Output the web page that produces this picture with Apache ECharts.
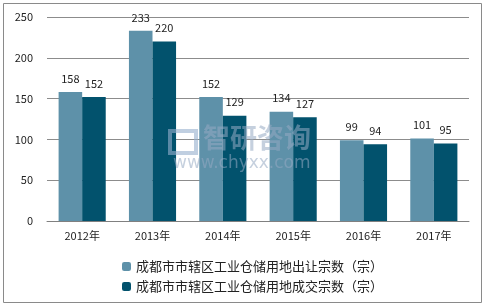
<!DOCTYPE html>
<html><head><meta charset="utf-8">
<script src="https://cdn.jsdelivr.net/npm/echarts@6/dist/echarts.min.js"></script>
<style>html,body{margin:0;padding:0;background:#fff}#c{width:485px;height:306px}</style>
</head><body><div id="c"></div>
<script>
const categories = ['2012年','2013年','2014年','2015年','2016年','2017年'];
const seriesNames = ['成都市市辖区工业仓储用地出让宗数（宗）','成都市市辖区工业仓储用地成交宗数（宗）'];
const transferred = [158,233,152,134,99,101];
const traded = [152,220,129,127,94,95];
const yTicks = {min:0,max:250,interval:50};

const font = '"Microsoft YaHei","Noto Sans CJK SC",sans-serif';
const chart = echarts.init(document.getElementById('c'));
chart.setOption({
  animation:false,
  textStyle:{fontFamily:font},
  graphic:[
    {type:'rect',shape:{x:3.5,y:3.5,width:478,height:299},style:{fill:'none',stroke:'#8a8a8a',lineWidth:1}},
    {type:'rect',z:100,shape:{x:170,y:131,width:26,height:22},style:{fill:'none',stroke:'rgba(150,175,205,0.6)',lineWidth:4}},
    {type:'text',left:203,top:124,z:100,style:{text:'智研咨询',fill:'rgba(150,170,195,0.55)',font:'bold 27px "Noto Sans CJK SC"'}},
    {type:'text',left:173,top:155,z:100,style:{text:'www.chyxx.com',fill:'rgba(150,170,195,0.55)',font:'17px "DejaVu Sans"'}}
  ],
  grid:{left:47,right:16,top:17,bottom:85},
  legend:{
    orient:'vertical',left:117,top:255,itemWidth:9,itemHeight:9,itemGap:7,
    textStyle:{fontSize:13,color:'#222',fontFamily:font},
    data:seriesNames
  },
  xAxis:{type:'category',data:categories,
    axisLine:{lineStyle:{color:'#808080'}},axisTick:{show:false},
    axisLabel:{color:'#222',fontSize:11,margin:9}},
  yAxis:{type:'value',min:yTicks.min,max:yTicks.max,interval:yTicks.interval,
    axisLine:{show:false},axisTick:{show:false},
    axisLabel:{color:'#222',fontSize:11,margin:14},
    splitLine:{lineStyle:{color:'#8c8c8c'}}},
  series:[
    {name:seriesNames[0],type:'bar',data:transferred,barGap:'0%',barCategoryGap:'33%',
      itemStyle:{color:'#5e91a9'},
      label:{show:true,position:'top',color:'#222',fontSize:11,distance:8}},
    {name:seriesNames[1],type:'bar',data:traded,
      itemStyle:{color:'#02526d'},
      label:{show:true,position:'top',color:'#222',fontSize:11,distance:8}}
  ]
});
</script></body></html>
